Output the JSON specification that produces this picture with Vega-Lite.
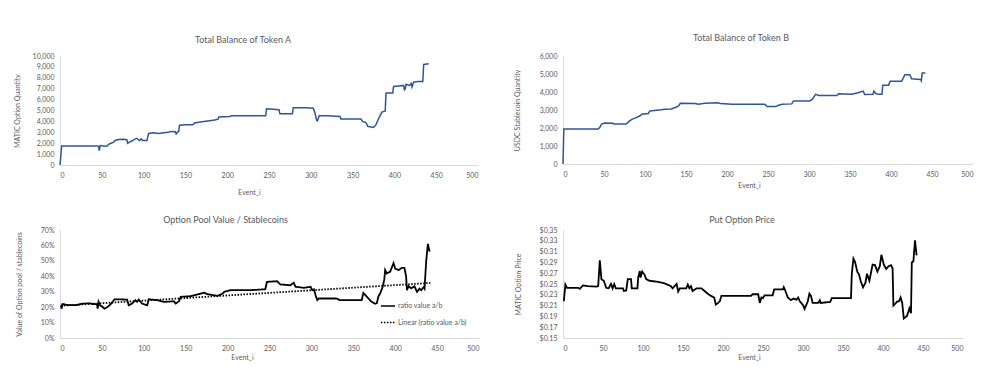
{
  "$schema": "https://vega.github.io/schema/vega-lite/v6.json",
  "background": "white",
  "padding": {"left": 13, "top": 34, "right": 5, "bottom": 5},
  "columns": 2,
  "bounds": "flush",
  "spacing": {"row": 65, "column": 84},
  "resolve": {"legend": {"strokeDash": "independent"}, "scale": {"strokeDash": "independent"}},
  "config": {
    "font": "Lato",
    "view": {"stroke": null},
    "axis": {"grid": false, "ticks": false, "tickSize": 0, "domainColor": "#d9d9d9", "domainWidth": 1, "labelColor": "#595959", "titleColor": "#595959", "labelFontSize": 7, "titleFontSize": 7, "titleFontWeight": "normal", "labelPadding": 6, "labelFont": "Lato", "titleFont": "Lato"},
    "title": {"fontSize": 9, "fontWeight": "normal", "color": "#595959", "font": "Lato"},
    "legend": {"labelFont": "Lato"}
  },
  "datasets": {
    "a": [
      {"e":0,"v":0},{"e":2,"v":1750},{"e":45,"v":1750},{"e":46,"v":1700},{"e":47,"v":1320},{"e":48,"v":1780},{"e":52,"v":1750},{"e":56,"v":1720},{"e":58,"v":1900},{"e":61,"v":2000},{"e":64,"v":2100},{"e":66,"v":2250},{"e":70,"v":2330},{"e":77,"v":2370},{"e":80,"v":2300},{"e":81,"v":2000},{"e":83,"v":2100},{"e":86,"v":2200},{"e":90,"v":2400},{"e":92,"v":2450},{"e":94,"v":2300},{"e":95,"v":2250},{"e":97,"v":2400},{"e":99,"v":2250},{"e":104,"v":2250},{"e":106,"v":2900},{"e":112,"v":2950},{"e":118,"v":2900},{"e":124,"v":2950},{"e":130,"v":3000},{"e":132,"v":3080},{"e":138,"v":3050},{"e":139,"v":2850},{"e":141,"v":3050},{"e":142,"v":3100},{"e":143,"v":3650},{"e":150,"v":3700},{"e":159,"v":3700},{"e":161,"v":3850},{"e":166,"v":3920},{"e":172,"v":3980},{"e":179,"v":4050},{"e":185,"v":4120},{"e":189,"v":4200},{"e":190,"v":4400},{"e":203,"v":4450},{"e":205,"v":4520},{"e":246,"v":4520},{"e":247,"v":5150},{"e":255,"v":5120},{"e":262,"v":5080},{"e":263,"v":4700},{"e":278,"v":4700},{"e":279,"v":5260},{"e":295,"v":5250},{"e":303,"v":5200},{"e":305,"v":4770},{"e":307,"v":4100},{"e":308,"v":4050},{"e":310,"v":4520},{"e":320,"v":4520},{"e":335,"v":4460},{"e":336,"v":4220},{"e":360,"v":4220},{"e":362,"v":4000},{"e":366,"v":3900},{"e":368,"v":3550},{"e":375,"v":3450},{"e":378,"v":3700},{"e":382,"v":4400},{"e":385,"v":4850},{"e":389,"v":4950},{"e":390,"v":6600},{"e":398,"v":6600},{"e":399,"v":7200},{"e":405,"v":7250},{"e":411,"v":7300},{"e":412,"v":6900},{"e":413,"v":7000},{"e":414,"v":7400},{"e":418,"v":7300},{"e":420,"v":7480},{"e":421,"v":7150},{"e":423,"v":7600},{"e":428,"v":7650},{"e":434,"v":7660},{"e":435,"v":9230},{"e":441,"v":9290}
    ],
    "b": [
      {"e":0,"v":0},{"e":1,"v":1950},{"e":43,"v":1950},{"e":45,"v":2040},{"e":47,"v":2220},{"e":51,"v":2280},{"e":61,"v":2260},{"e":62,"v":2220},{"e":77,"v":2220},{"e":80,"v":2350},{"e":84,"v":2480},{"e":90,"v":2590},{"e":94,"v":2680},{"e":96,"v":2770},{"e":104,"v":2810},{"e":106,"v":2950},{"e":120,"v":3010},{"e":124,"v":3045},{"e":132,"v":3060},{"e":137,"v":3140},{"e":141,"v":3230},{"e":143,"v":3370},{"e":161,"v":3355},{"e":165,"v":3320},{"e":173,"v":3370},{"e":189,"v":3400},{"e":192,"v":3355},{"e":206,"v":3320},{"e":246,"v":3320},{"e":249,"v":3190},{"e":259,"v":3190},{"e":263,"v":3265},{"e":267,"v":3320},{"e":279,"v":3340},{"e":281,"v":3500},{"e":301,"v":3500},{"e":304,"v":3590},{"e":308,"v":3870},{"e":312,"v":3810},{"e":334,"v":3810},{"e":336,"v":3900},{"e":352,"v":3870},{"e":360,"v":3960},{"e":366,"v":4050},{"e":368,"v":3860},{"e":378,"v":3870},{"e":379,"v":4050},{"e":381,"v":3930},{"e":385,"v":3870},{"e":389,"v":3870},{"e":390,"v":4380},{"e":397,"v":4380},{"e":399,"v":4600},{"e":413,"v":4600},{"e":417,"v":4960},{"e":423,"v":4960},{"e":425,"v":4740},{"e":436,"v":4690},{"e":437,"v":4620},{"e":438,"v":5050},{"e":442,"v":5050}
    ],
    "ratio": [
      {"s":"ratio value a/b","e":1,"v":0.21},{"s":"ratio value a/b","e":2,"v":0.19},{"s":"ratio value a/b","e":3,"v":0.22},{"s":"ratio value a/b","e":10,"v":0.213},{"s":"ratio value a/b","e":20,"v":0.213},{"s":"ratio value a/b","e":26,"v":0.222},{"s":"ratio value a/b","e":35,"v":0.225},{"s":"ratio value a/b","e":41,"v":0.219},{"s":"ratio value a/b","e":44,"v":0.22},{"s":"ratio value a/b","e":45,"v":0.19},{"s":"ratio value a/b","e":46,"v":0.234},{"s":"ratio value a/b","e":48,"v":0.21},{"s":"ratio value a/b","e":50,"v":0.205},{"s":"ratio value a/b","e":53,"v":0.19},{"s":"ratio value a/b","e":57,"v":0.202},{"s":"ratio value a/b","e":61,"v":0.222},{"s":"ratio value a/b","e":65,"v":0.251},{"s":"ratio value a/b","e":80,"v":0.249},{"s":"ratio value a/b","e":82,"v":0.212},{"s":"ratio value a/b","e":86,"v":0.223},{"s":"ratio value a/b","e":90,"v":0.245},{"s":"ratio value a/b","e":92,"v":0.234},{"s":"ratio value a/b","e":94,"v":0.249},{"s":"ratio value a/b","e":98,"v":0.223},{"s":"ratio value a/b","e":104,"v":0.212},{"s":"ratio value a/b","e":106,"v":0.251},{"s":"ratio value a/b","e":116,"v":0.245},{"s":"ratio value a/b","e":124,"v":0.234},{"s":"ratio value a/b","e":136,"v":0.238},{"s":"ratio value a/b","e":138,"v":0.223},{"s":"ratio value a/b","e":142,"v":0.238},{"s":"ratio value a/b","e":144,"v":0.267},{"s":"ratio value a/b","e":156,"v":0.271},{"s":"ratio value a/b","e":164,"v":0.282},{"s":"ratio value a/b","e":172,"v":0.293},{"s":"ratio value a/b","e":176,"v":0.284},{"s":"ratio value a/b","e":188,"v":0.273},{"s":"ratio value a/b","e":194,"v":0.288},{"s":"ratio value a/b","e":196,"v":0.299},{"s":"ratio value a/b","e":204,"v":0.31},{"s":"ratio value a/b","e":227,"v":0.31},{"s":"ratio value a/b","e":245,"v":0.316},{"s":"ratio value a/b","e":247,"v":0.364},{"s":"ratio value a/b","e":259,"v":0.368},{"s":"ratio value a/b","e":263,"v":0.347},{"s":"ratio value a/b","e":275,"v":0.342},{"s":"ratio value a/b","e":279,"v":0.358},{"s":"ratio value a/b","e":281,"v":0.332},{"s":"ratio value a/b","e":291,"v":0.325},{"s":"ratio value a/b","e":299,"v":0.332},{"s":"ratio value a/b","e":301,"v":0.31},{"s":"ratio value a/b","e":303,"v":0.316},{"s":"ratio value a/b","e":305,"v":0.277},{"s":"ratio value a/b","e":307,"v":0.245},{"s":"ratio value a/b","e":309,"v":0.256},{"s":"ratio value a/b","e":330,"v":0.256},{"s":"ratio value a/b","e":334,"v":0.245},{"s":"ratio value a/b","e":360,"v":0.245},{"s":"ratio value a/b","e":362,"v":0.292},{"s":"ratio value a/b","e":366,"v":0.268},{"s":"ratio value a/b","e":372,"v":0.234},{"s":"ratio value a/b","e":376,"v":0.222},{"s":"ratio value a/b","e":378,"v":0.225},{"s":"ratio value a/b","e":380,"v":0.27},{"s":"ratio value a/b","e":382,"v":0.288},{"s":"ratio value a/b","e":385,"v":0.33},{"s":"ratio value a/b","e":387,"v":0.38},{"s":"ratio value a/b","e":388,"v":0.44},{"s":"ratio value a/b","e":390,"v":0.418},{"s":"ratio value a/b","e":394,"v":0.43},{"s":"ratio value a/b","e":398,"v":0.485},{"s":"ratio value a/b","e":400,"v":0.45},{"s":"ratio value a/b","e":404,"v":0.44},{"s":"ratio value a/b","e":408,"v":0.455},{"s":"ratio value a/b","e":411,"v":0.455},{"s":"ratio value a/b","e":413,"v":0.4},{"s":"ratio value a/b","e":414,"v":0.31},{"s":"ratio value a/b","e":416,"v":0.336},{"s":"ratio value a/b","e":419,"v":0.322},{"s":"ratio value a/b","e":423,"v":0.335},{"s":"ratio value a/b","e":426,"v":0.299},{"s":"ratio value a/b","e":429,"v":0.32},{"s":"ratio value a/b","e":431,"v":0.31},{"s":"ratio value a/b","e":434,"v":0.33},{"s":"ratio value a/b","e":435,"v":0.32},{"s":"ratio value a/b","e":437,"v":0.5},{"s":"ratio value a/b","e":439,"v":0.61},{"s":"ratio value a/b","e":441,"v":0.56},
      {"s":"Linear (ratio value a/b)","e":1,"v":0.209},{"s":"Linear (ratio value a/b)","e":442,"v":0.357}
    ],
    "price": [
      {"e":1,"v":0.218},{"e":3,"v":0.249},{"e":5,"v":0.243},{"e":19,"v":0.243},{"e":21,"v":0.241},{"e":25,"v":0.2475},{"e":31,"v":0.246},{"e":42,"v":0.245},{"e":44,"v":0.246},{"e":46,"v":0.294},{"e":48,"v":0.259},{"e":51,"v":0.256},{"e":54,"v":0.243},{"e":57,"v":0.242},{"e":60,"v":0.25},{"e":62,"v":0.242},{"e":64,"v":0.25},{"e":66,"v":0.242},{"e":75,"v":0.242},{"e":76,"v":0.237},{"e":79,"v":0.238},{"e":81,"v":0.259},{"e":85,"v":0.259},{"e":86,"v":0.242},{"e":93,"v":0.242},{"e":94,"v":0.262},{"e":96,"v":0.274},{"e":97,"v":0.262},{"e":99,"v":0.273},{"e":102,"v":0.267},{"e":104,"v":0.259},{"e":108,"v":0.256},{"e":119,"v":0.254},{"e":127,"v":0.251},{"e":135,"v":0.246},{"e":137,"v":0.242},{"e":142,"v":0.25},{"e":144,"v":0.236},{"e":146,"v":0.242},{"e":154,"v":0.242},{"e":156,"v":0.249},{"e":158,"v":0.242},{"e":160,"v":0.246},{"e":162,"v":0.237},{"e":167,"v":0.242},{"e":173,"v":0.242},{"e":177,"v":0.237},{"e":181,"v":0.232},{"e":185,"v":0.228},{"e":189,"v":0.225},{"e":191,"v":0.212},{"e":194,"v":0.215},{"e":196,"v":0.218},{"e":198,"v":0.228},{"e":235,"v":0.228},{"e":237,"v":0.231},{"e":244,"v":0.231},{"e":246,"v":0.215},{"e":248,"v":0.225},{"e":250,"v":0.224},{"e":252,"v":0.229},{"e":262,"v":0.229},{"e":264,"v":0.24},{"e":275,"v":0.24},{"e":276,"v":0.244},{"e":278,"v":0.237},{"e":281,"v":0.225},{"e":285,"v":0.22},{"e":288,"v":0.223},{"e":292,"v":0.221},{"e":294,"v":0.225},{"e":296,"v":0.218},{"e":300,"v":0.211},{"e":302,"v":0.204},{"e":306,"v":0.218},{"e":308,"v":0.232},{"e":310,"v":0.228},{"e":312,"v":0.215},{"e":319,"v":0.215},{"e":321,"v":0.22},{"e":322,"v":0.215},{"e":334,"v":0.217},{"e":336,"v":0.224},{"e":360,"v":0.224},{"e":361,"v":0.269},{"e":363,"v":0.297},{"e":365,"v":0.291},{"e":368,"v":0.272},{"e":370,"v":0.268},{"e":372,"v":0.256},{"e":375,"v":0.244},{"e":378,"v":0.252},{"e":380,"v":0.269},{"e":383,"v":0.256},{"e":387,"v":0.286},{"e":390,"v":0.285},{"e":393,"v":0.273},{"e":396,"v":0.283},{"e":398,"v":0.304},{"e":401,"v":0.286},{"e":404,"v":0.278},{"e":407,"v":0.283},{"e":410,"v":0.285},{"e":412,"v":0.279},{"e":413,"v":0.21},{"e":418,"v":0.218},{"e":420,"v":0.218},{"e":422,"v":0.225},{"e":424,"v":0.215},{"e":426,"v":0.186},{"e":430,"v":0.191},{"e":432,"v":0.2},{"e":433,"v":0.205},{"e":435,"v":0.196},{"e":436,"v":0.29},{"e":438,"v":0.292},{"e":440,"v":0.331},{"e":442,"v":0.303}
    ]
  },
  "concat": [
    {
      "width": 418, "height": 109,
      "title": {"text": "Total Balance of Token A", "dx": -26, "offset": 7},
      "data": {"name": "a"},
      "mark": {"type": "line", "color": "#2F5597", "strokeWidth": 1.5},
      "encoding": {
        "x": {"field": "e", "type": "quantitative", "scale": {"domain": [0, 500], "nice": false},
              "axis": {"title": "Event_i", "values": [0,50,100,150,200,250,300,350,400,450,500], "titlePadding": 10, "titleX": 189}},
        "y": {"field": "v", "type": "quantitative", "scale": {"domain": [0, 10000], "nice": false},
              "axis": {"title": "MATIC Option Quantity", "values": [0,1000,2000,3000,4000,5000,6000,7000,8000,9000,10000], "format": ",d", "titlePadding": 12}}
      }
    },
    {
      "width": 410, "height": 108,
      "title": {"text": "Total Balance of Token B", "dx": -27, "offset": 9},
      "data": {"name": "b"},
      "mark": {"type": "line", "color": "#2F5597", "strokeWidth": 1.5},
      "encoding": {
        "x": {"field": "e", "type": "quantitative", "scale": {"domain": [0, 500], "nice": false},
              "axis": {"title": "Event_i", "values": [0,50,100,150,200,250,300,350,400,450,500], "titlePadding": 4, "titleX": 186}},
        "y": {"field": "v", "type": "quantitative", "scale": {"domain": [0, 6000], "nice": false},
              "axis": {"title": "USDC  Stablecoin Quantity", "values": [0,1000,2000,3000,4000,5000,6000], "format": ",d", "titlePadding": 19}}
      }
    },
    {
      "width": 419, "height": 108,
      "title": {"text": "Option Pool Value / Stablecoins", "dx": -44, "offset": 1},
      "data": {"name": "ratio"},
      "mark": {"type": "line", "color": "black", "strokeWidth": 1.8},
      "encoding": {
        "x": {"field": "e", "type": "quantitative", "scale": {"domain": [0, 500], "nice": false},
              "axis": {"title": "Event_i", "values": [0,50,100,150,200,250,300,350,400,450,500], "titlePadding": 2, "titleX": 182}},
        "y": {"field": "v", "type": "quantitative", "scale": {"domain": [0, 0.7], "nice": false},
              "axis": {"title": "Value of Option pool / stablecoins", "values": [0,0.1,0.2,0.3,0.4,0.5,0.6,0.7], "format": ".0%", "titlePadding": 18}},
        "strokeDash": {"field": "s", "type": "nominal",
          "scale": {"domain": ["ratio value a/b", "Linear (ratio value a/b)"], "range": [[1, 0], [1.5, 1.5]]},
          "legend": {"title": null, "orient": "bottom-right", "offset": 12, "symbolType": "stroke", "symbolStrokeColor": "black", "symbolStrokeWidth": 1.6, "symbolSize": 200, "labelFontSize": 7, "labelColor": "#595959", "rowPadding": 4.5, "labelOffset": 2}}
      }
    },
    {
      "width": 400, "height": 108,
      "title": {"text": "Put Option Price", "dx": -21, "offset": 1.5},
      "data": {"name": "price"},
      "mark": {"type": "line", "color": "black", "strokeWidth": 1.8},
      "encoding": {
        "x": {"field": "e", "type": "quantitative", "scale": {"domain": [0, 500], "nice": false},
              "axis": {"title": "Event_i", "values": [0,50,100,150,200,250,300,350,400,450,500], "titlePadding": 2, "titleX": 186}},
        "y": {"field": "v", "type": "quantitative", "scale": {"domain": [0.15, 0.35], "nice": false},
              "axis": {"title": "MATIC Option Price", "values": [0.15,0.17,0.19,0.21,0.23,0.25,0.27,0.29,0.31,0.33,0.35], "format": "$.2f", "titlePadding": 18}}
      }
    }
  ]
}
